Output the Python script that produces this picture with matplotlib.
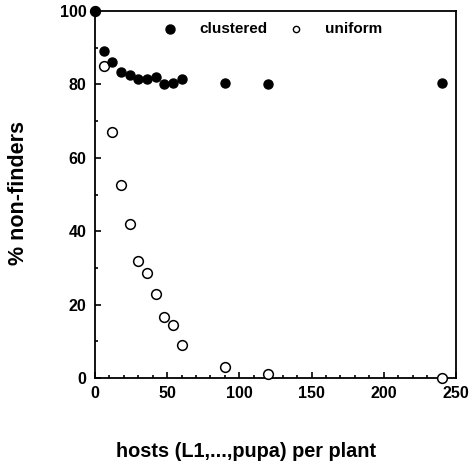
import matplotlib
matplotlib.use("Agg")
import matplotlib.pyplot as plt
from matplotlib.ticker import MultipleLocator

hosts = [0, 6, 12, 18, 24, 30, 36, 42, 48, 54, 60, 90, 120, 240]
clustered = [100, 89, 86, 83.5, 82.5, 81.5, 81.5, 82, 80, 80.5, 81.5, 80.5, 80, 80.5]
uniform = [100, 85, 67, 52.5, 42, 32, 28.5, 23, 16.5, 14.5, 9, 3, 1, 0]

plt.rcParams['font.family'] = ['Liberation Sans', 'DejaVu Sans']
plt.rcParams['font.weight'] = 'bold'

fig = plt.figure(figsize=(4.73, 4.68), dpi=100)
ax = fig.add_axes([0.2008, 0.1923, 0.7632, 0.7842])

ax.plot(hosts, uniform, linestyle='none', marker='o', markersize=7,
        markerfacecolor='white', markeredgecolor='black', markeredgewidth=1.1,
        clip_on=False, zorder=3)
ax.plot(hosts, clustered, linestyle='none', marker='o', markersize=6.5,
        color='black', clip_on=False, zorder=4)

ax.set_xlim(0, 250)
ax.set_ylim(0, 100)
ax.xaxis.set_major_locator(MultipleLocator(50))
ax.xaxis.set_minor_locator(MultipleLocator(10))
ax.yaxis.set_major_locator(MultipleLocator(20))
ax.yaxis.set_minor_locator(MultipleLocator(10))
ax.tick_params(which='both', direction='in', width=1.2)
ax.tick_params(which='major', length=4, labelsize=11.5, pad=6)
ax.tick_params(which='minor', length=2.5)
for lbl in ax.get_xticklabels() + ax.get_yticklabels():
    lbl.set_fontweight('bold')
for s in ax.spines.values():
    s.set_linewidth(1.3)

ax.set_xlabel('hosts (L1,...,pupa) per plant', fontsize=14.3, fontweight='bold')
ax.xaxis.set_label_coords(0.418, -0.174)
ax.set_ylabel('% non-finders', fontsize=15.5, fontweight='bold')
ax.yaxis.set_label_coords(-0.184, 0.505)

# legend drawn as markers and text inside the axes
ax.plot([52], [95.2], marker='o', markersize=6.5, color='black', linestyle='none')
ax.text(72, 95.2, 'clustered', fontsize=11, fontweight='bold', va='center')
ax.plot([139], [95.2], marker='o', markersize=4.5, markerfacecolor='white',
        markeredgecolor='black', markeredgewidth=1.0, linestyle='none')
ax.text(159, 95.2, 'uniform', fontsize=11, fontweight='bold', va='center')

fig.savefig('out.png', dpi=100)
